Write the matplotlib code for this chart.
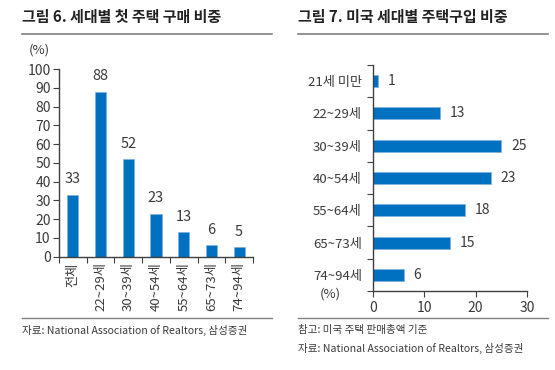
import matplotlib
matplotlib.use("Agg")
import matplotlib.pyplot as plt
import numpy as np

plt.rcParams['font.family'] = ['Noto Sans CJK KR', 'DejaVu Sans']

# Left chart data
left_categories = ["전체", "22~29세", "30~39세", "40~54세", "55~64세", "65~73세", "74~94세"]
left_values = [33, 88, 52, 23, 13, 6, 5]

# Right chart data
right_categories = ["21세 미만", "22~29세", "30~39세", "40~54세", "55~64세", "65~73세", "74~94세"]
right_values = [1, 13, 25, 23, 18, 15, 6]

W, H = 555, 370
BAR = '#0070C0'
TXT = '#3a3a3a'
AX = '#404040'
LW = 'light'

fig = plt.figure(figsize=(W / 100, H / 100), dpi=100)

def fx(px):
    return px / W

def fy(py):
    return 1 - py / H

# Titles and rules
fig.text(fx(22), fy(17), "그림 6. 세대별 첫 주택 구매 비중", fontsize=10.8, fontweight='bold',
         color='#222222', va='center', ha='left')
fig.text(fx(298), fy(17), "그림 7. 미국 세대별 주택구입 비중", fontsize=10.8, fontweight='bold',
         color='#222222', va='center', ha='left')
for x0, x1 in [(22, 272), (298, 548)]:
    fig.add_artist(plt.Line2D([fx(x0), fx(x1)], [fy(33.5), fy(33.5)], color='#808080', lw=1.2))
    fig.add_artist(plt.Line2D([fx(x0), fx(x1)], [fy(318), fy(318)], color='#808080', lw=1.0))

# Left chart
axL = fig.add_axes([fx(59), fy(256.7), fx(253) - fx(59), (256.7 - 69) / H])
xL = np.arange(len(left_categories))
axL.bar(xL, left_values, width=0.4, color=BAR, edgecolor='#7FB2DE', linewidth=0.5)
axL.set_xlim(-0.5, len(left_categories) - 0.5)
axL.set_ylim(0, 100)
axL.set_yticks(np.arange(0, 101, 10))
axL.set_xticks(np.arange(-0.5, len(left_categories), 1.0))
axL.set_xticklabels([])
axL.set_xticks(xL, minor=True)
axL.set_xticklabels(left_categories, minor=True, rotation=90, fontsize=9.5, color=TXT,
                    fontweight=LW)
axL.tick_params(axis='x', which='minor', length=0, pad=4)
axL.tick_params(axis='x', which='major', length=4, color=AX, direction='out')
axL.tick_params(axis='y', length=4, color=AX, labelsize=10, labelcolor=TXT, pad=2)
for lab in axL.get_yticklabels():
    lab.set_fontweight(LW)
for s in ['top', 'right']:
    axL.spines[s].set_visible(False)
for s in ['left', 'bottom']:
    axL.spines[s].set_color(AX)
    axL.spines[s].set_linewidth(1.0)
for x, v in zip(xL, left_values):
    axL.annotate(str(v), (x, v), xytext=(0, 6), textcoords='offset points', ha='center',
                 va='bottom', fontsize=10.5, color=TXT, fontweight=LW)
fig.text(fx(39), fy(50), "(%)", fontsize=9.5, color=TXT, ha='center', va='center', fontweight=LW)
fig.text(fx(22), fy(330), "자료: National Association of Realtors, 삼성증권", fontsize=7.6,
         color=TXT, ha='left', va='center', fontweight=LW)

# Right chart
axR = fig.add_axes([fx(373), fy(291), fx(527) - fx(373), (291 - 65) / H])
yR = np.arange(len(right_categories))
axR.barh(yR, right_values, height=0.37, color=BAR, edgecolor='#7FB2DE', linewidth=0.5)
axR.set_xlim(0, 30)
axR.set_ylim(len(right_categories) - 0.5, -0.5)
axR.set_xticks([0, 10, 20, 30])
axR.set_yticks(np.arange(-0.5, len(right_categories), 1.0))
axR.set_yticklabels([])
axR.set_yticks(yR, minor=True)
axR.set_yticklabels(right_categories, minor=True, fontsize=9.5, color=TXT, fontweight=LW)
axR.tick_params(axis='y', which='minor', length=0, pad=8)
axR.tick_params(axis='y', which='major', length=4, color=AX, direction='out')
axR.tick_params(axis='x', length=4, color=AX, labelsize=10, labelcolor=TXT, pad=3)
for lab in axR.get_xticklabels():
    lab.set_fontweight(LW)
for s in ['top', 'right']:
    axR.spines[s].set_visible(False)
for s in ['left', 'bottom']:
    axR.spines[s].set_color(AX)
    axR.spines[s].set_linewidth(1.0)
for y, v in zip(yR, right_values):
    axR.annotate(str(v), (v, y), xytext=(7, 0), textcoords='offset points', ha='left',
                 va='center', fontsize=10, color=TXT, fontweight=LW)
fig.text(fx(330), fy(294), "(%)", fontsize=9.5, color=TXT, ha='center', va='center', fontweight=LW)
fig.text(fx(298), fy(330), "참고: 미국 주택 판매총액 기준", fontsize=7.6, color=TXT, ha='left',
         va='center', fontweight=LW)
fig.text(fx(298), fy(348), "자료: National Association of Realtors, 삼성증권", fontsize=7.6,
         color=TXT, ha='left', va='center', fontweight=LW)

fig.savefig("out.png", dpi=100)
